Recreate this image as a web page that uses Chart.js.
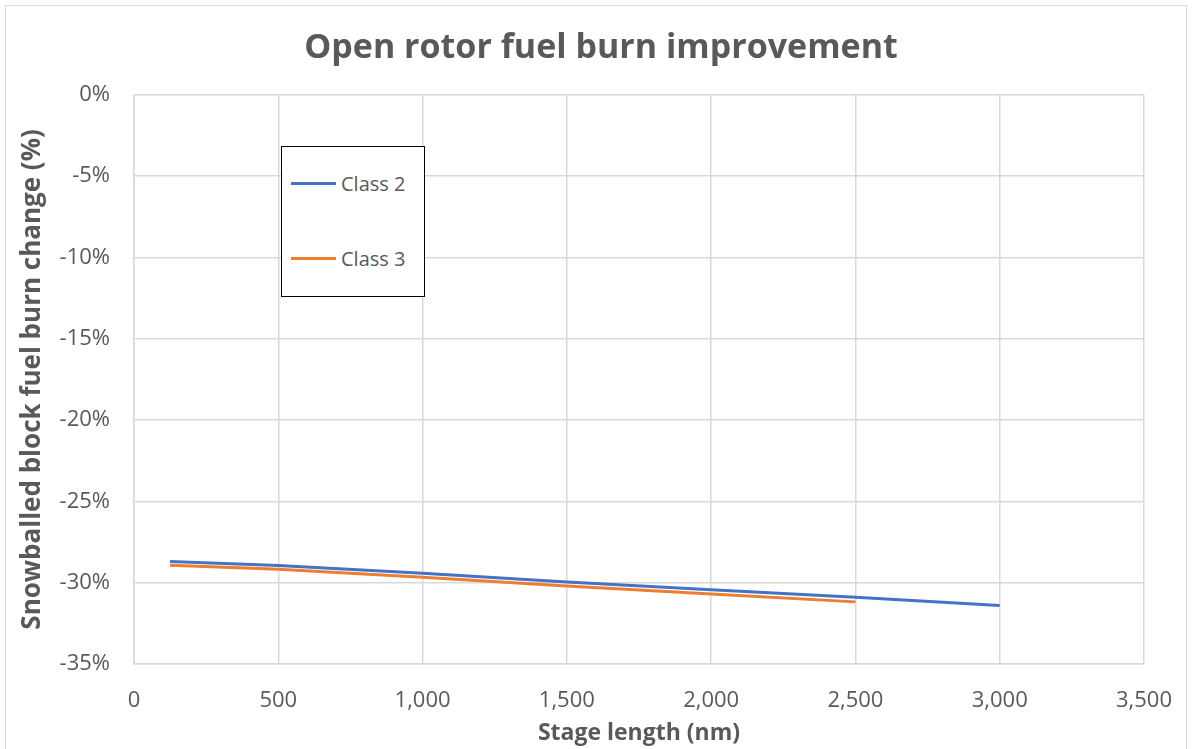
<!DOCTYPE html>
<html>
<head>
<meta charset="utf-8">
<script src="https://cdn.jsdelivr.net/npm/chart.js@4.4.0/dist/chart.umd.min.js"></script>
<style>
  html, body { margin: 0; padding: 0; background: #fff; }
  #wrap { position: relative; width: 1193px; height: 749px; overflow: hidden; }
  #frame { position: absolute; left: 5px; top: 5px; width: 1182px; height: 760px; border: 1.5px solid #d9d9d9; box-sizing: border-box; pointer-events: none; }
  #legend { position: absolute; left: 281px; top: 146px; width: 144px; height: 151px; border: 1.5px solid #000; box-sizing: border-box; background: #fff;
            font-family: "Open Sans", sans-serif; font-size: 20px; color: #595959; }
  .item { position: absolute; left: 9px; height: 24px; display: flex; align-items: center; }
  .sw { width: 45px; height: 3px; margin-right: 5px; }
</style>
</head>
<body>
<div id="wrap">
  <canvas id="c" width="1193" height="749"></canvas>
  <div id="frame"></div>
  <div id="legend"></div>
</div>
<script>
const stageLength = [125, 500, 1000, 1500, 2000, 2500, 3000];
const class2 = [-28.69, -28.95, -29.42, -29.96, -30.43, -30.90, -31.41];
const class3 = [-28.93, -29.18, -29.67, -30.20, -30.69, -31.18];
const seriesNames = ["Class 2", "Class 3"];
const seriesColors = ["#4472C4", "#ED7D31"];
const xTicks = [0, 500, 1000, 1500, 2000, 2500, 3000, 3500];
const yTicks = [0, -5, -10, -15, -20, -25, -30, -35];

const toPts = (xs, ys) => ys.map((y, i) => ({ x: xs[i], y: y }));

const gridColor = "#d9d9d9";
const textColor = "#595959";
const ff = "'Open Sans', sans-serif";

const PAD_LEFT = 9;
const PLOT_LEFT = 134, PLOT_RIGHT = 1144, PLOT_TOP = 95, PLOT_BOTTOM = 664;

new Chart(document.getElementById("c"), {
  type: "line",
  data: {
    datasets: [
      { label: seriesNames[0], data: toPts(stageLength, class2), borderColor: seriesColors[0], backgroundColor: seriesColors[0], borderWidth: 3, pointRadius: 0, tension: 0 },
      { label: seriesNames[1], data: toPts(stageLength, class3), borderColor: seriesColors[1], backgroundColor: seriesColors[1], borderWidth: 3, pointRadius: 0, tension: 0 }
    ]
  },
  options: {
    responsive: false,
    animation: false,
    layout: { padding: { left: PAD_LEFT, right: 0, top: 0, bottom: 0 } },
    plugins: {
      legend: { display: false },
      tooltip: { enabled: false },
      title: {
        display: true,
        text: "Open rotor fuel burn improvement",
        color: textColor,
        font: { family: ff, size: 34, weight: "bold" },
        padding: { top: 28, bottom: 26 }
      }
    },
    scales: {
      x: {
        type: "linear",
        min: 0, max: 3500,
        afterBuildTicks: (s) => { s.ticks = xTicks.map(v => ({ value: v })); },
        afterFit: (s) => { s.height = 749 - PLOT_BOTTOM; s.paddingRight = 0; s.paddingLeft = 0; },
        ticks: {
          color: textColor, font: { family: ff, size: 22 }, padding: 24,
          callback: (v) => v.toLocaleString("en-US")
        },
        grid: { color: gridColor, lineWidth: 1.5, drawTicks: false },
        border: { color: gridColor, width: 1.5 },
        title: { display: true, text: "Stage length (nm)", color: textColor, font: { family: ff, size: 23, weight: "bold" }, padding: { top: 0, bottom: 2 } }
      },
      y: {
        type: "linear",
        min: -35, max: 0,
        afterBuildTicks: (s) => { s.ticks = yTicks.map(v => ({ value: v })); },
        afterFit: (s) => { s.width = PLOT_LEFT - PAD_LEFT; },
        ticks: {
          color: textColor, font: { family: ff, size: 22 }, padding: 24,
          callback: (v) => v + "%"
        },
        grid: { color: gridColor, lineWidth: 1.5, drawTicks: false },
        border: { color: gridColor, width: 1.5 },
        title: { display: true, text: "Snowballed block fuel burn change (%)", color: textColor, font: { family: ff, size: 26, weight: "bold" }, padding: { top: 17 - PAD_LEFT, bottom: 0 } }
      },
      yRightSpace: {
        type: "linear",
        position: "right",
        min: -35, max: 0,
        afterFit: (s) => { s.width = 1193 - PLOT_RIGHT; },
        ticks: { display: false },
        grid: { display: false, drawOnChartArea: false },
        border: { display: false },
        title: { display: false }
      }
    }
  }
});

const lg = document.getElementById("legend");
seriesNames.forEach((n, i) => {
  const d = document.createElement("div");
  d.className = "item";
  d.style.top = (i === 0 ? 24 : 99) + "px";
  d.innerHTML = '<span class="sw" style="background:' + seriesColors[i] + '"></span><span>' + n + '</span>';
  lg.appendChild(d);
});
</script>
</body>
</html>
